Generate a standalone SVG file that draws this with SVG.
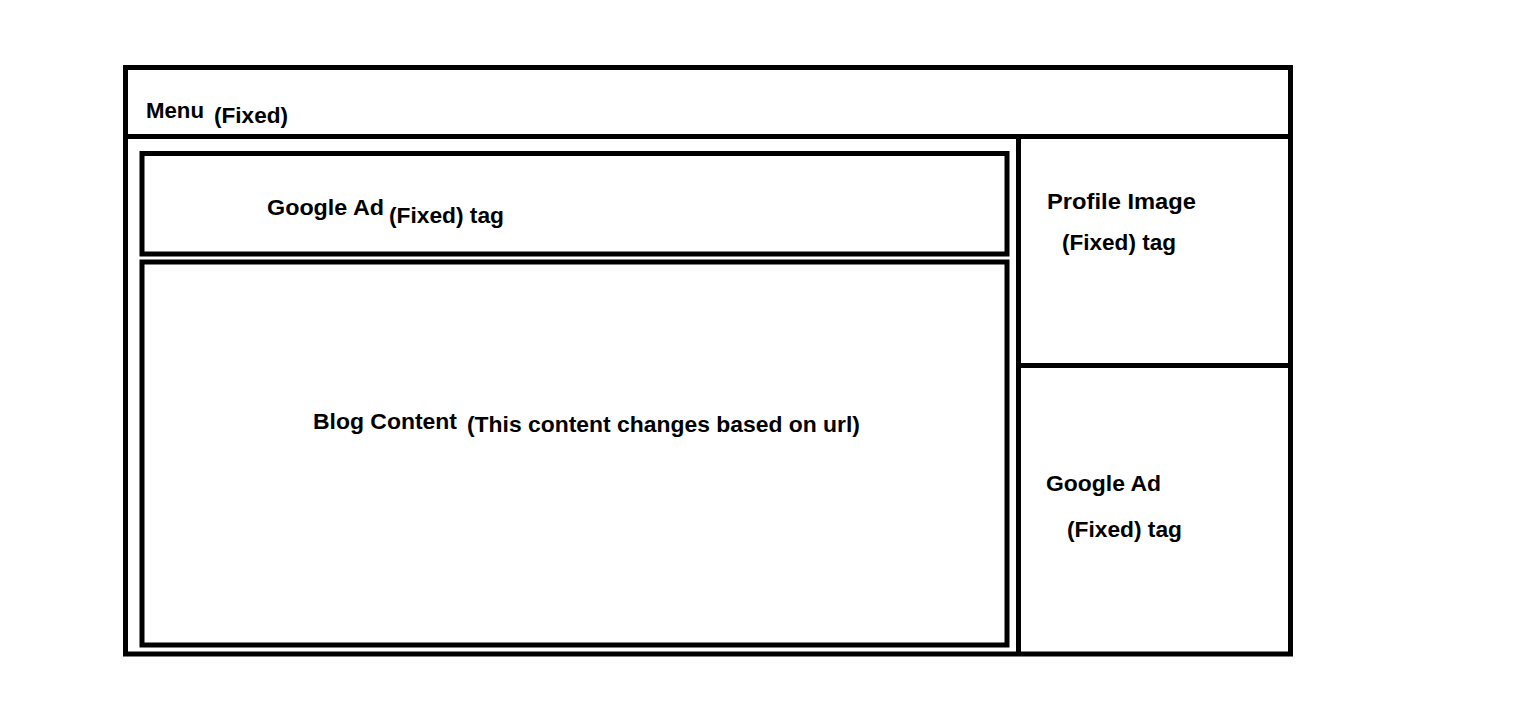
<svg xmlns="http://www.w3.org/2000/svg" width="1516" height="719" viewBox="0 0 1516 719">
<style>
.box{fill:none;stroke:#000;stroke-width:5}
.ln{stroke:#000;stroke-width:5;fill:none}
.t{font-family:"Liberation Sans",Arial,sans-serif;font-weight:bold;font-size:22px;fill:#000}
</style>
<rect width="1516" height="719" fill="#fff"/>
<g id="page">
<rect class="box" x="125.5" y="67.5" width="1165" height="586.5"/>
</g>
<g id="connectors">
<line class="ln" x1="125" y1="136.5" x2="1290" y2="136.5"/>
<line class="ln" x1="1018.5" y1="136" x2="1018.5" y2="654"/>
<line class="ln" x1="1018" y1="365.5" x2="1290" y2="365.5"/>
</g>
<g id="menu">
<text class="t" x="146" y="118" textLength="58" lengthAdjust="spacingAndGlyphs">Menu</text>
<text class="t" x="214" y="122.5" textLength="74" lengthAdjust="spacingAndGlyphs">(Fixed)</text>
</g>
<g id="google-ad-top">
<rect class="box" x="142" y="153.5" width="865" height="100.5"/>
<text class="t" x="267" y="214.5" textLength="117" lengthAdjust="spacingAndGlyphs">Google Ad</text>
<text class="t" x="389" y="223" textLength="115" lengthAdjust="spacingAndGlyphs">(Fixed) tag</text>
</g>
<g id="blog-content">
<rect class="box" x="142" y="262" width="865" height="383"/>
<text class="t" x="313" y="429" textLength="144" lengthAdjust="spacingAndGlyphs">Blog Content</text>
<text class="t" x="467" y="432" textLength="393" lengthAdjust="spacingAndGlyphs">(This content changes based on url)</text>
</g>
<g id="profile-image">
<text class="t" x="1047" y="209" textLength="149" lengthAdjust="spacingAndGlyphs">Profile Image</text>
<text class="t" x="1062" y="250" textLength="114" lengthAdjust="spacingAndGlyphs">(Fixed) tag</text>
</g>
<g id="google-ad-side">
<text class="t" x="1046" y="491" textLength="115" lengthAdjust="spacingAndGlyphs">Google Ad</text>
<text class="t" x="1067" y="537" textLength="115" lengthAdjust="spacingAndGlyphs">(Fixed) tag</text>
</g>
</svg>
